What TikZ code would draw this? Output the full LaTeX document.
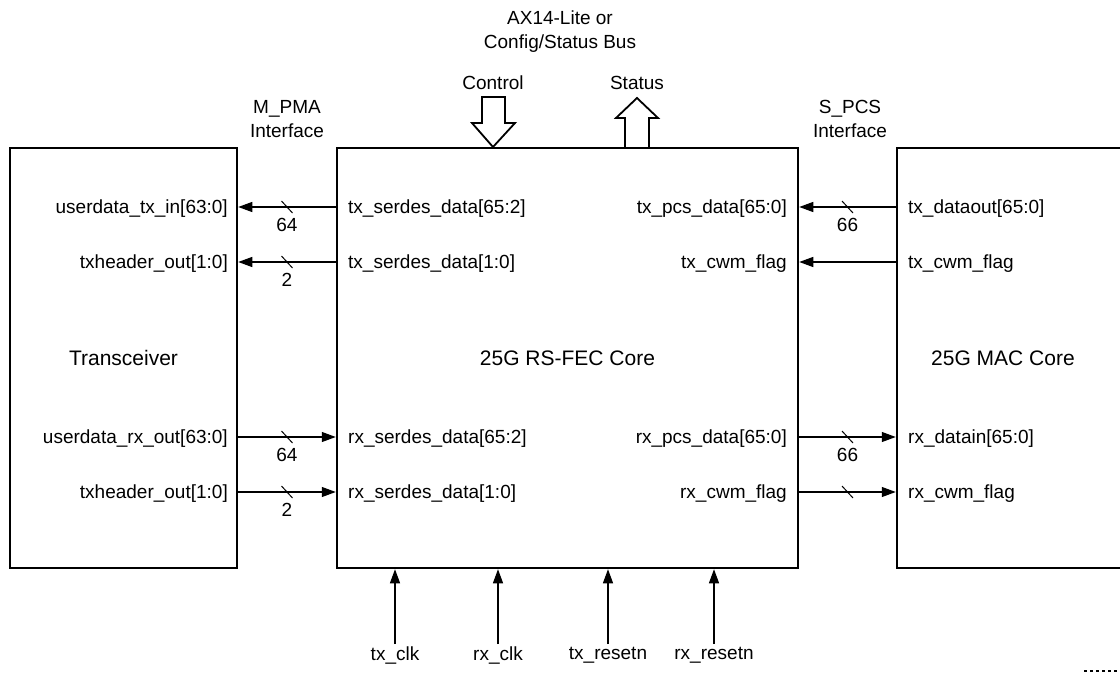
\documentclass[tikz,border=0pt]{standalone}
\usepackage{fontspec}
\setmainfont{Liberation Sans}
\usetikzlibrary{arrows.meta,calc}
\begin{document}
\begin{tikzpicture}[x=1pt, y=-1pt, font=\fontsize{19}{24}\selectfont,
        blk/.style={draw, line width=2.5pt, inner sep=0pt, font=\fontsize{21}{25}\selectfont},
        sig/.style={line width=1.2pt, -{Triangle[length=14pt,width=10pt]}},
        lbl/.style={inner sep=3pt},
        tick/.style={line width=1pt},
        hollow/.style={draw, line width=1.8pt, fill=white}]
    \useasboundingbox (0,0) rectangle (1120,674);
    % blocks
    \node[blk, minimum width=227pt, minimum height=420pt] (xcvr) at (123.5,358) {Transceiver};
    \node[blk, minimum width=461pt, minimum height=420pt] (core) at (567.5,358) {25G RS-FEC Core};
    \node[blk, minimum width=250pt, minimum height=420pt] (mac) at (1022,358) {};
    \node[font=\fontsize{21}{25}\selectfont] (mact) at (1003,358) {25G MAC Core};
    % top labels
    \node[align=center] (bus) at (560,32) {AX14-Lite or\\Config/Status Bus};
    \node (ctl) at (493,83) {Control}; \node (sts) at (637,83) {Status};
    \node[align=center] (pma) at (287,119) {M\_PMA\\Interface};
    \node[align=center] (pcs) at (850,119) {S\_PCS\\Interface};
    \draw[hollow] (482,97) -- (505,97) -- (505,123) -- (515,123) -- (493,147) -- (472,123) -- (482,123) -- cycle; % Control
    \draw[hollow] (625,148) -- (625,118) -- (616,118) -- (637,98) -- (658,118) -- (649,118) -- (649,148) -- cycle; % Status
    % transceiver side ports
    \node[lbl, anchor=east] (xtx1) at (231,209) {userdata\_tx\_in[63:0]};
    \node[lbl, anchor=east] (xtx2) at (231,264) {txheader\_out[1:0]};
    \node[lbl, anchor=east] (xrx1) at (231,439) {userdata\_rx\_out[63:0]};
    \node[lbl, anchor=east] (xrx2) at (231,494) {txheader\_out[1:0]};
    \node[lbl, anchor=west] (ctx1) at (345,209) {tx\_serdes\_data[65:2]};
    \node[lbl, anchor=west] (ctx2) at (345,264) {tx\_serdes\_data[1:0]};
    \node[lbl, anchor=west] (crx1) at (345,439) {rx\_serdes\_data[65:2]};
    \node[lbl, anchor=west] (crx2) at (345,494) {rx\_serdes\_data[1:0]};
    % mac side ports
    \node[lbl, anchor=east] (ptx1) at (790,209) {tx\_pcs\_data[65:0]};
    \node[lbl, anchor=east] (ptx2) at (790,264) {tx\_cwm\_flag};
    \node[lbl, anchor=east] (prx1) at (790,439) {rx\_pcs\_data[65:0]};
    \node[lbl, anchor=east] (prx2) at (790,494) {rx\_cwm\_flag};
    \node[lbl, anchor=west] (mtx1) at (905,209) {tx\_dataout[65:0]};
    \node[lbl, anchor=west] (mtx2) at (905,264) {tx\_cwm\_flag};
    \node[lbl, anchor=west] (mrx1) at (905,439) {rx\_datain[65:0]};
    \node[lbl, anchor=west] (mrx2) at (905,494) {rx\_cwm\_flag};
    % connectors
    \draw[sig] (core.west |- 0,207) -- coordinate[midway] (m1) (xcvr.east |- 0,207);
    \draw[sig] (core.west |- 0,262) -- coordinate[midway] (m2) (xcvr.east |- 0,262);
    \draw[sig] (xcvr.east |- 0,437) -- coordinate[midway] (m3) (core.west |- 0,437);
    \draw[sig] (xcvr.east |- 0,492) -- coordinate[midway] (m4) (core.west |- 0,492);
    \draw[sig] (mac.west |- 0,207) -- coordinate[midway] (m5) (core.east |- 0,207);
    \draw[sig] (mac.west |- 0,262) -- (core.east |- 0,262);
    \draw[sig] (core.east |- 0,437) -- coordinate[midway] (m7) (mac.west |- 0,437);
    \draw[sig] (core.east |- 0,492) -- coordinate[midway] (m8) (mac.west |- 0,492);
    % bus widths
    \foreach \m/\w in {m1/64, m2/2, m3/64, m4/2, m5/66, m7/66, m8/} {
        \draw[tick] ($(\m)+(-5.5,-6)$) -- ($(\m)+(5.5,6)$);
        \node[lbl] (w\m) at ($(\m)+(0,18)$) {\w};
    }
    % clocks and resets
    \foreach \x/\n/\t in {395/tclk/tx\_clk, 498/rclk/rx\_clk, 608/trst/tx\_resetn, 714/rrst/rx\_resetn} {
        \node[lbl, anchor=north] (\n) at (\x,644) {\t};
        \draw[sig] (\n.north) -- (\n.north |- core.south);
    }
    \draw[line width=2.5pt, dash pattern=on 2.5pt off 3.5pt] (1084,671) -- (1118,671);
\end{tikzpicture}
\end{document}
